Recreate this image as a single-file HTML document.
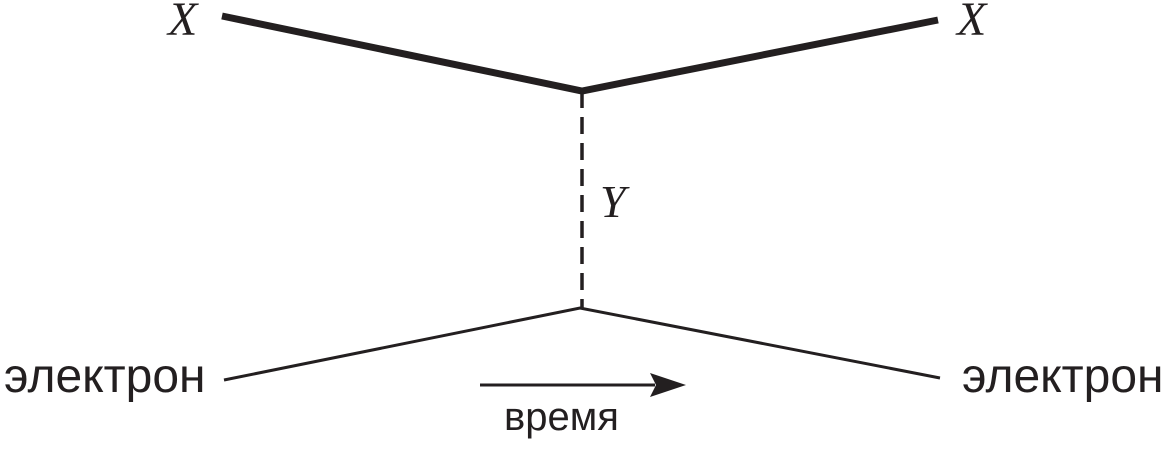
<!DOCTYPE html>
<html><head><meta charset="utf-8"><style>
html,body{margin:0;padding:0;background:#fff;}
</style></head><body>
<svg width="1166" height="444" viewBox="0 0 1166 444" xmlns="http://www.w3.org/2000/svg">
<polyline points="222,16 582,91 938,20" fill="none" stroke="#231f20" stroke-width="7" stroke-linejoin="miter"/>
<line x1="582" y1="91" x2="582" y2="308" stroke="#231f20" stroke-width="3.5" stroke-dasharray="17,9"/>
<polyline points="224,380 580,308 940,378" fill="none" stroke="#231f20" stroke-width="3"/>
<line x1="480" y1="385" x2="655" y2="385" stroke="#231f20" stroke-width="3"/>
<polygon points="686,385 650,373 656,385 650,397" fill="#231f20"/>
<text x="168" y="35" font-family="Liberation Serif, serif" font-style="italic" font-size="48" fill="#231f20">X</text>
<text x="957" y="35" font-family="Liberation Serif, serif" font-style="italic" font-size="48" fill="#231f20">X</text>
<text x="600" y="217" font-family="Liberation Serif, serif" font-style="italic" font-size="46" fill="#231f20">Y</text>
<text x="4" y="392" font-family="Liberation Sans, sans-serif" font-size="48" fill="#231f20">электрон</text>
<text x="962" y="392" font-family="Liberation Sans, sans-serif" font-size="48" fill="#231f20">электрон</text>
<text x="504" y="430" font-family="Liberation Sans, sans-serif" font-size="40" fill="#231f20">время</text>
</svg>
</body></html>
